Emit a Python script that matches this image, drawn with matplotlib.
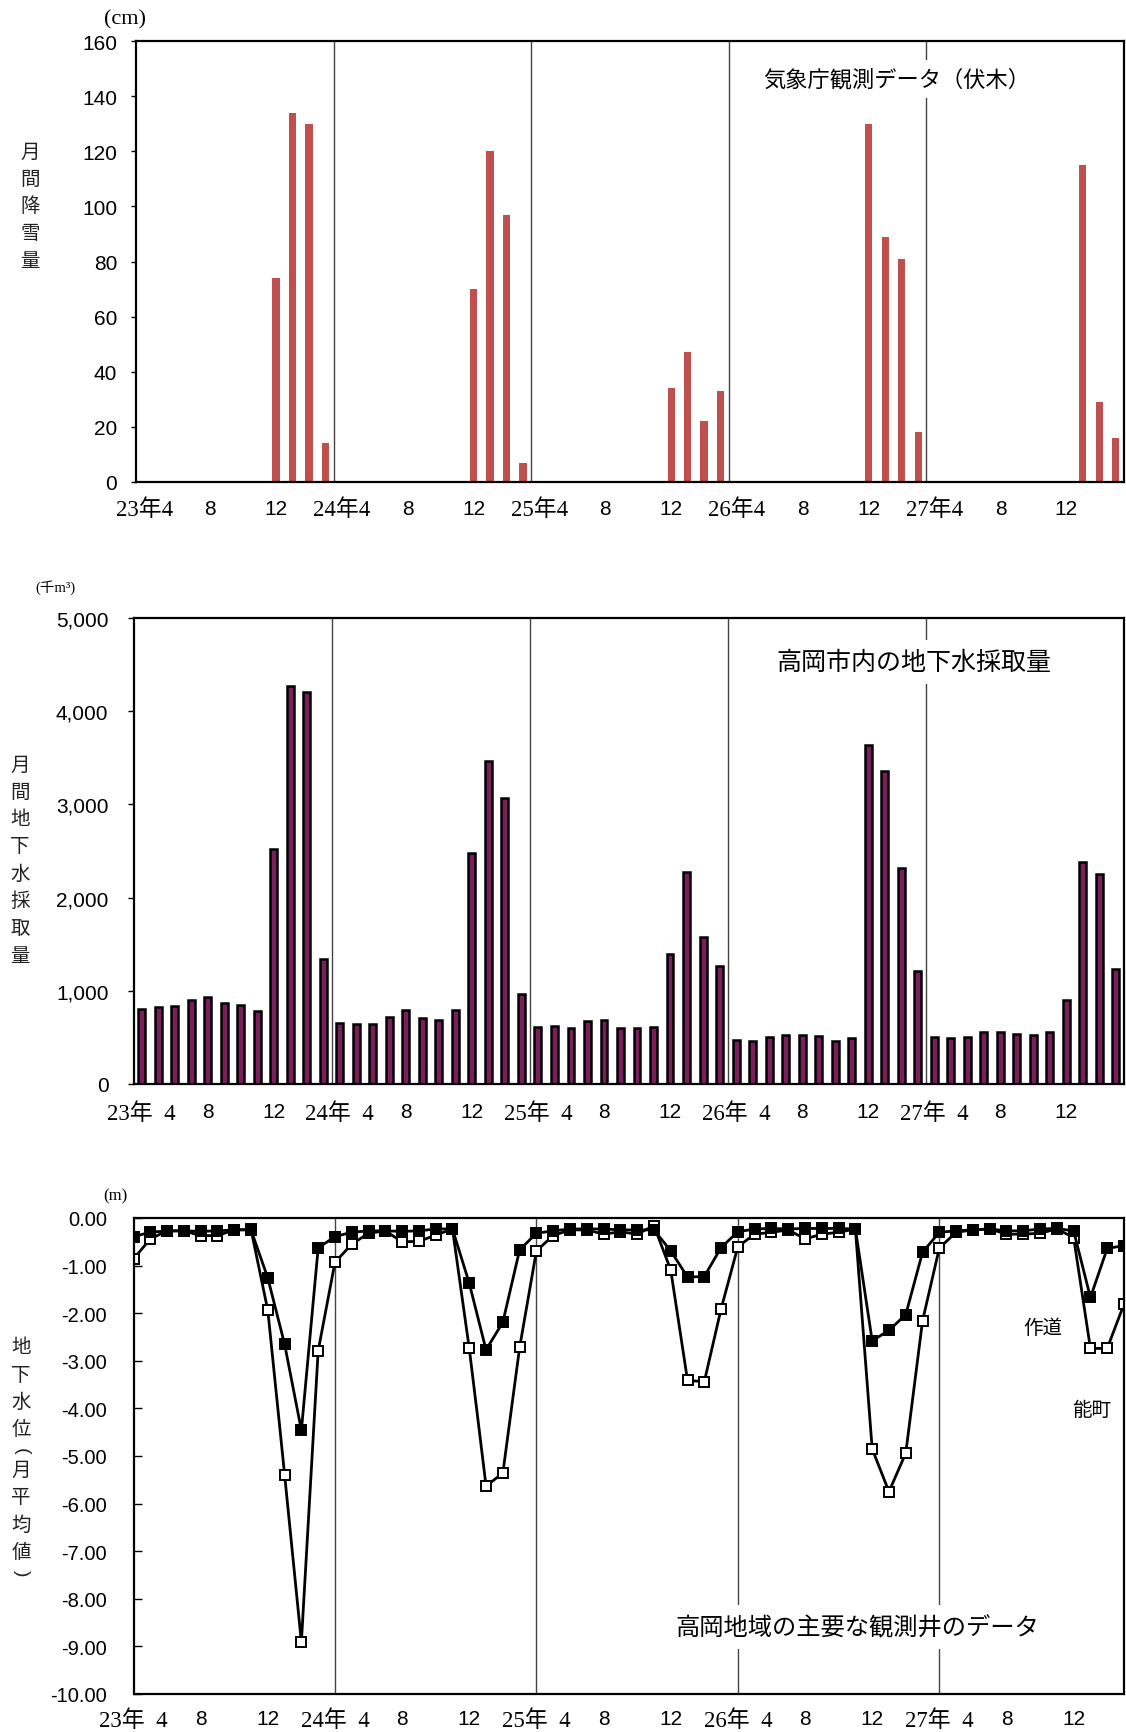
import matplotlib.pyplot as plt
from matplotlib.ticker import FuncFormatter

plt.rcParams['font.family'] = ['Liberation Sans', 'Noto Sans CJK JP']

# ---- data (平成23年4月 ～ 平成28年3月, 60 months) ----
snow_cm = [
    0, 0, 0, 0, 0, 0, 0, 0, 74, 134, 130, 14,      # H23
    0, 0, 0, 0, 0, 0, 0, 0, 70, 120, 97, 7,        # H24
    0, 0, 0, 0, 0, 0, 0, 0, 34, 47, 22, 33,        # H25
    0, 0, 0, 0, 0, 0, 0, 0, 130, 89, 81, 18,       # H26
    0, 0, 0, 0, 0, 0, 0, 0, 0, 115, 29, 16,        # H27
]

pumping = [
    800, 829, 833, 903, 936, 870, 850, 788, 2525, 4269, 4208, 1338,
    657, 640, 644, 714, 794, 711, 687, 794, 2476, 3471, 3069, 971,
    609, 627, 605, 672, 690, 600, 600, 610, 1390, 2280, 1580, 1265,
    472, 464, 501, 526, 522, 518, 464, 493, 3632, 3361, 2313, 1212,
    501, 497, 501, 555, 563, 538, 526, 555, 900, 2383, 2251, 1237,
]

sakumichi = [
    -0.39, -0.30, -0.27, -0.27, -0.28, -0.27, -0.25, -0.25, -1.26, -2.65, -4.46, -0.63,
    -0.39, -0.30, -0.27, -0.27, -0.28, -0.27, -0.23, -0.23, -1.37, -2.77, -2.19, -0.67,
    -0.32, -0.27, -0.23, -0.23, -0.23, -0.25, -0.25, -0.25, -0.69, -1.24, -1.23, -0.62,
    -0.29, -0.23, -0.22, -0.23, -0.22, -0.22, -0.22, -0.23, -2.58, -2.36, -2.03, -0.72,
    -0.30, -0.27, -0.25, -0.23, -0.27, -0.27, -0.23, -0.22, -0.27, -1.67, -0.64, -0.58,
]

nomachi = [
    -0.86, -0.44, -0.27, -0.27, -0.37, -0.37, -0.25, -0.24, -1.94, -5.39, -8.91, -2.79,
    -0.93, -0.55, -0.32, -0.27, -0.50, -0.49, -0.36, -0.23, -2.74, -5.63, -5.36, -2.72,
    -0.69, -0.37, -0.25, -0.25, -0.34, -0.29, -0.34, -0.16, -1.09, -3.41, -3.44, -1.91,
    -0.60, -0.34, -0.30, -0.25, -0.44, -0.34, -0.30, -0.23, -4.85, -5.75, -4.94, -2.16,
    -0.63, -0.30, -0.25, -0.23, -0.34, -0.34, -0.32, -0.23, -0.41, -2.74, -2.74, -1.81,
]

months = list(range(len(snow_cm)))
tick_pos = [0, 4, 8, 12, 16, 20, 24, 28, 32, 36, 40, 44, 48, 52, 56]
labels_a = ['23年4', '8', '12', '24年4', '8', '12', '25年4', '8', '12',
            '26年4', '8', '12', '27年4', '8', '12']
labels_b = ['23年  4', '8', '12', '24年  4', '8', '12', '25年  4', '8', '12',
            '26年  4', '8', '12', '27年  4', '8', '12']
year_starts = [12, 24, 36, 48]

W, H = 1126, 1733
fig = plt.figure(figsize=(W / 100, H / 100), dpi=100)

SERIF = ['Liberation Serif', 'Noto Sans CJK JP']
CJK = ['Noto Sans CJK JP', 'Liberation Sans']


def make_axes(left, top, right, bottom):
    ax = fig.add_axes([left / W, 1 - bottom / H, (right - left) / W, (bottom - top) / H])
    for s in ax.spines.values():
        s.set_linewidth(1.6)
    return ax


def ftext(x, y, s, **kw):
    return fig.text(x / W, 1 - y / H, s, **kw)


def serif_years(ax):
    for t in ax.get_xticklabels():
        if '年' in t.get_text():
            t.set_fontfamily(SERIF)
            t.set_fontsize(16.5)


def vertical_label(x, y0, text, size=14, pitch=27.3):
    y = y0
    for c in text:
        if c in '()':
            y -= 6
            ftext(x, y, c, ha='center', va='center', fontsize=size, rotation=-90,
                  family=['Liberation Sans'], color='#222222')
            y += pitch - 8
        else:
            ftext(x, y, c, ha='center', va='center', fontsize=size, family=CJK,
                  color='#222222')
            y += pitch


title_box = dict(boxstyle='square,pad=0.35', fc='white', ec='none')

# ---- 1: monthly snowfall ----
ax1 = make_axes(136, 42, 1124, 483)
ax1.bar(months, snow_cm, width=0.44, color='#c0504d')
for m in year_starts:
    ax1.axvline(m - 0.5, color='#444444', lw=1.0, zorder=0.5)
ax1.set_xlim(-0.5, 59.5)
ax1.set_ylim(0, 160)
ax1.set_yticks(range(0, 161, 20))
ax1.set_xticks(tick_pos)
ax1.set_xticklabels(labels_a)
ax1.tick_params(axis='x', length=0, pad=12, labelsize=15)
ax1.tick_params(axis='y', direction='out', length=3.5, width=1, pad=10, labelsize=15)
serif_years(ax1)
ftext(125, 20, '(cm)', ha='center', va='center', fontsize=16, family=SERIF)
vertical_label(30, 152, '月間降雪量')
ftext(897, 80, '気象庁観測データ（伏木）', ha='center', va='center', fontsize=16,
      family=CJK, bbox=title_box)

# ---- 2: monthly groundwater pumping ----
ax2 = make_axes(133.5, 619, 1124, 1085)
ax2.bar(months, pumping, width=0.42, color='#7a1f5c', edgecolor='black', linewidth=1.8)
for m in year_starts:
    ax2.axvline(m - 0.5, color='#444444', lw=1.0, zorder=0.5)
ax2.set_xlim(-0.5, 59.5)
ax2.set_ylim(0, 5000)
ax2.set_yticks(range(0, 5001, 1000))
ax2.yaxis.set_major_formatter(FuncFormatter(lambda v, p: f'{int(v):,}'))
ax2.set_xticks(tick_pos)
ax2.set_xticklabels(labels_b)
ax2.tick_params(axis='x', length=0, pad=13, labelsize=15)
ax2.tick_params(axis='y', direction='out', length=4, width=1, pad=14, labelsize=15)
serif_years(ax2)
ftext(55, 588, '(千m³)', ha='center', va='center', fontsize=10.5, family=SERIF)
vertical_label(20, 765, '月間地下水採取量')
ftext(914, 663, '高岡市内の地下水採取量', ha='center', va='center', fontsize=18,
      family=CJK, bbox=title_box)

# ---- 3: groundwater level at observation wells ----
ax3 = make_axes(133.5, 1219, 1124, 1695)
for m in year_starts:
    ax3.axvline(m, color='#444444', lw=1.0, zorder=0.5)
ax3.plot(months, nomachi, color='black', lw=2.0, marker='s', ms=6.8,
         mfc='white', mec='black', mew=1.4)
ax3.plot(months, sakumichi, color='black', lw=2.0, marker='s', ms=6.8,
         mfc='black', mec='black', mew=1.4)
ax3.set_xlim(0, 59)
ax3.set_ylim(-10, 0)
ax3.set_yticks(list(range(0, -11, -1)))
ax3.yaxis.set_major_formatter(FuncFormatter(lambda v, p: f'{v:.2f}'))
ax3.set_xticks(tick_pos)
ax3.set_xticklabels(labels_b)
ax3.tick_params(axis='x', length=0, pad=11, labelsize=15)
ax3.tick_params(axis='y', direction='in', length=6, width=1, pad=19, labelsize=14.5)
serif_years(ax3)
ftext(115, 1196, '(m)', ha='center', va='center', fontsize=12, family=SERIF)
vertical_label(21, 1348, '地下水位(月平均値)')
ftext(857, 1628, '高岡地域の主要な観測井のデータ', ha='center', va='center', fontsize=17.5,
      family=CJK, bbox=title_box)
ftext(1043, 1328, '作道', ha='center', va='center', fontsize=14, family=CJK)
ftext(1092, 1411, '能町', ha='center', va='center', fontsize=14, family=CJK)

fig.savefig('out.png', dpi=100)
